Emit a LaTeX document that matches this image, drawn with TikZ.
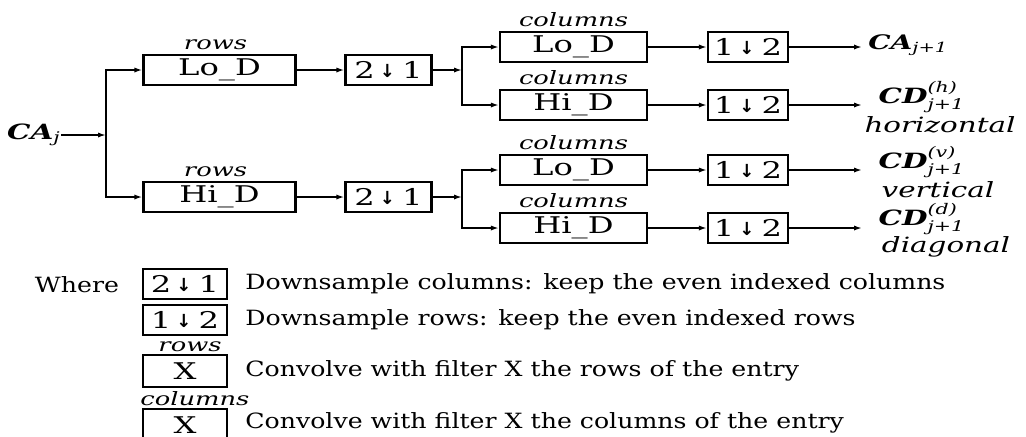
\documentclass[tikz,border=0pt]{standalone}
\usepackage{amsmath}
\usepackage{fontspec}
\setmainfont{DejaVu Serif}[FakeStretch=1.4]
\newfontfamily\legfont{DejaVu Serif}[FakeStretch=1.2]
\newfontfamily\arrfont{DejaVu Sans}
\usetikzlibrary{arrows.meta,positioning}
\newcommand{\dn}{{\arrfont\bfseries\fontsize{9}{9}\selectfont\raisebox{0.3pt}{↓}}}
\newcommand{\dsm}[2]{#1\hspace{2.5pt}\dn\hspace{3.5pt}#2}
\newcommand{\outlbl}[1]{$\textbf{\textit{CD}}^{\textit{(#1)}}_{\textit{j+1}}$}
\begin{document}
\begin{tikzpicture}[x=0.5pt,y=-0.5pt,
  font=\fontsize{9}{11}\selectfont,
  box/.style={draw, line width=1.1pt, minimum height=15pt, inner sep=0pt, font=\fontsize{11.5}{13}\selectfont},
  rbox/.style={box, minimum width=76pt},
  cbox/.style={box, minimum width=73.5pt},
  dbox/.style={box, minimum width=43pt},
  ebox/.style={box, minimum width=40pt},
  lgbox/.style={box, minimum width=42pt},
  lbl/.style={font=\itshape\fontsize{9.2}{10}\selectfont, inner sep=0pt},
  olbl/.style={font=\itshape\fontsize{10.5}{11}\selectfont, inner sep=0pt},
  mlbl/.style={font=\fontsize{10.5}{11}\selectfont, inner sep=0pt},
  txt/.style={inner sep=0pt, anchor=west, font=\legfont\fontsize{10.5}{12}\selectfont},
  conn/.style={line width=0.8pt, -{Latex[length=4pt,width=2.6pt]}},
]
\useasboundingbox (0,0) rectangle (1026,436);
\clip (0,0) rectangle (1026,436);

% input
\node[mlbl] (caj) at (34,135) {$\textbf{\textit{CA}}_{\textit{j}}$};
\coordinate (s0) at (106,135);

% rows filters
\node[rbox] (r1) at (219.5,70) {Lo\_D};
\node[rbox] (r2) at (219.5,197) {Hi\_D};
\node[lbl, above=2pt of r1.north, xshift=-2pt] (lr1) {rows};
\node[lbl, above=2pt of r2.north, xshift=-2pt] (lr2) {rows};

% column downsamplers
\node[dbox] (d1) at (388.5,70) {\dsm{2}{1}};
\node[dbox] (d2) at (388.5,197) {\dsm{2}{1}};
\coordinate (s1) at (462,70);
\coordinate (s2) at (462,197);

% columns filters
\node[cbox] (c1) at (573.5,47) {Lo\_D};
\node[cbox] (c2) at (573.5,105) {Hi\_D};
\node[cbox] (c3) at (573.5,170) {Lo\_D};
\node[cbox] (c4) at (573.5,228) {Hi\_D};
\node[lbl, above=2pt of c1.north] (lc1) {columns};
\node[lbl, above=2pt of c2.north] (lc2) {columns};
\node[lbl, above=2pt of c3.north] (lc3) {columns};
\node[lbl, above=2pt of c4.north] (lc4) {columns};

% row downsamplers
\node[ebox] (e1) at (748,47) {\dsm{1}{2}};
\node[ebox] (e2) at (748,105) {\dsm{1}{2}};
\node[ebox] (e3) at (748,170) {\dsm{1}{2}};
\node[ebox] (e4) at (748,228) {\dsm{1}{2}};
\coordinate (o1) at (862,47);
\coordinate (o2) at (862,105);
\coordinate (o3) at (862,170);
\coordinate (o4) at (862,228);

% outputs
\node[mlbl, anchor=west, font=\fontsize{10}{11}\selectfont] (out1) at (868,45) {$\textbf{\textit{CA}}_{\textit{j+1}}$};
\node[mlbl] (out2) at (922,97) {\outlbl{h}};
\node[olbl] (out2b) at (940,125) {horizontal};
\node[mlbl] (out3) at (922,162) {\outlbl{v}};
\node[olbl] (out3b) at (938,190) {vertical};
\node[mlbl] (out4) at (922,219) {\outlbl{d}};
\node[olbl] (out4b) at (946,247) {diagonal};

% connectors
\draw[conn] (caj) -- (s0);
\draw[conn] (s0) |- (r1.west);
\draw[conn] (s0) |- (r2.west);
\draw[conn] (r1) -- (d1);
\draw[conn] (r2) -- (d2);
\draw[conn] (d1) -- (s1);
\draw[conn] (d2) -- (s2);
\draw[conn] (s1) |- (c1.west);
\draw[conn] (s1) |- (c2.west);
\draw[conn] (s2) |- (c3.west);
\draw[conn] (s2) |- (c4.west);
\draw[conn] (c1) -- (e1);
\draw[conn] (c2) -- (e2);
\draw[conn] (c3) -- (e3);
\draw[conn] (c4) -- (e4);
\draw[conn] (e1) -- (o1);
\draw[conn] (e2) -- (o2);
\draw[conn] (e3) -- (o3);
\draw[conn] (e4) -- (o4);

% legend
\node[txt, anchor=center] (where) at (77,285) {Where};
\node[lgbox] (k1) at (185,284) {\dsm{2}{1}};
\node[lgbox] (k2) at (185,320) {\dsm{1}{2}};
\node[lgbox, minimum height=16pt] (k3) at (185,371) {X};
\node[lgbox, minimum height=16pt] (k4) at (185,425) {X};
\node[lbl] (lk3) at (190,347) {rows};
\node[lbl, anchor=west] (lk4) at (140,399) {columns};
\node[txt] (t1) at (245,284) {Downsample columns: keep the even indexed columns};
\node[txt] (t2) at (245,320) {Downsample rows: keep the even indexed rows};
\node[txt] (t3) at (245,371) {Convolve with filter X the rows of the entry};
\node[txt] (t4) at (245,423) {Convolve with filter X the columns of the entry};
\end{tikzpicture}
\end{document}
